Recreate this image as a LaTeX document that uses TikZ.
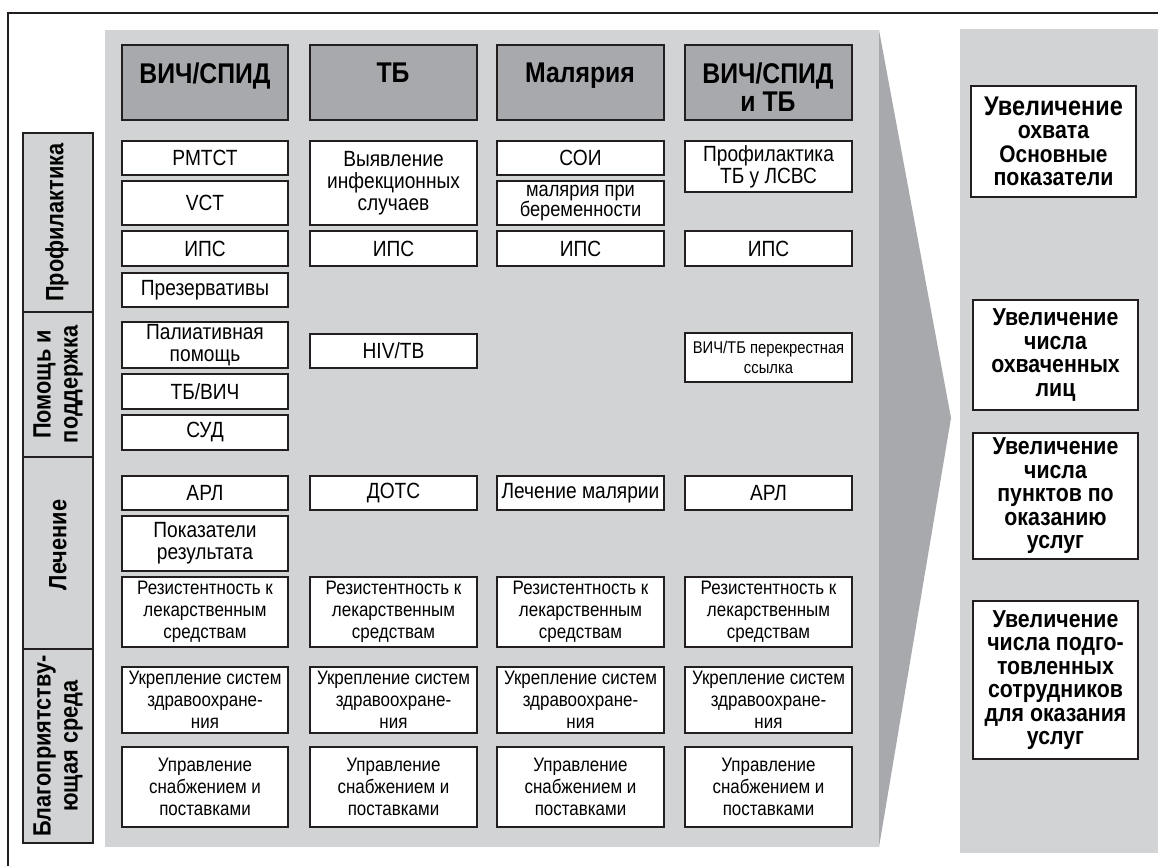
\documentclass[tikz,border=0pt]{standalone}
\usepackage{fontspec}
\setmainfont{Liberation Sans}[FakeStretch=0.87]
\definecolor{lg}{HTML}{D1D3D4}
\definecolor{mg}{HTML}{A7A9AC}
\definecolor{lc}{HTML}{231F20}
\newcommand\Cell[7]{\node[#2, minimum width={(#5)-(#3)}, minimum height={(#6)-(#4)}] (#1) at ({((#3)+(#5))/2},{((#4)+(#6))/2}) {#7};}
\begin{document}
\begin{tikzpicture}[x=1pt,y=-1pt,
  cell/.style={draw=lc, line width=2.8pt, fill=white, inner sep=0pt, align=center, font=\fontsize{22}{22}\selectfont},
  small/.style={cell, font=\fontsize{19.5}{22}\selectfont},
  tiny/.style={cell, font=\fontsize{17}{20}\selectfont},
  hdr/.style={draw=lc, line width=2.8pt, fill=mg, inner sep=0pt},
  hdrtxt/.style={inner sep=0pt, align=center, anchor=north, font=\bfseries\fontsize{28.5}{28}\selectfont},
  res/.style={cell, font=\bfseries\fontsize{24.5}{23.5}\selectfont},
  side/.style={draw=lc, line width=2.8pt, fill=lg, inner sep=0pt},
  sidetxt/.style={rotate=90, align=center, inner sep=0pt, font=\bfseries\fontsize{25}{27}\selectfont}]
\useasboundingbox (0,0) rectangle (1158,866);
% frame
\draw[lc, line width=2.5pt] (8,866) -- (8,13) -- (1158,13);
% panels
\fill[lg] (105,30) rectangle (879,847);
\fill[mg] (879,30) -- (951,418) -- (879,847) -- cycle;
\fill[lg] (960,29) rectangle (1158,853);
% side labels
\Cell{s1}{side}{23}{133}{93}{312}{}
\Cell{s2}{side}{23}{312}{93}{457}{}
\Cell{s3}{side}{23}{457}{93}{649}{}
\Cell{s4}{side}{23}{649}{93}{843}{}
\node[sidetxt] (s1t) at ([xshift=-1]s1.center) {Профилактика};
\node[sidetxt] (s2t) at (s2.center) {Помощь и\\поддержка};
\node[sidetxt] (s3t) at ([yshift=8]s3.center) {Лечение};
\node[sidetxt] (s4t) at (s4.center) {Благоприятству-\\ющая среда};
% headers
\Cell{h1}{hdr}{122}{45}{288}{120}{}
\Cell{h2}{hdr}{310}{45}{477}{120}{}
\Cell{h3}{hdr}{497}{45}{664}{120}{}
\Cell{h4}{hdr}{685}{45}{852}{120}{}
\node[hdrtxt] (h1t) at (205,63) {ВИЧ/СПИД};
\node[hdrtxt] (h2t) at (393,63) {ТБ};
\node[hdrtxt] (h3t) at (580,63) {Малярия};
\node[hdrtxt] (h4t) at (768,63) {ВИЧ/СПИД\\и ТБ};
% column 1
\Cell{a1}{cell}{122}{141}{288}{175}{РМТСТ}
\Cell{a2}{cell}{122}{181}{288}{225}{\raisebox{-13pt}{VCT}}
\Cell{a3}{cell}{122}{231}{288}{266}{ИПС}
\Cell{a4}{cell}{122}{273}{288}{307}{Презервативы}
\Cell{a5}{cell}{122}{322}{288}{368}{Палиативная\\помощь}
\Cell{a6}{cell}{122}{374}{288}{409}{ТБ/ВИЧ}
\Cell{a7}{cell}{122}{415}{288}{450}{СУД}
\Cell{a8}{cell}{122}{476}{288}{510}{АРЛ}
\Cell{a9}{cell}{122}{516}{288}{571}{Показатели\\результата}
\Cell{a10}{small}{122}{577}{288}{647}{Резистентность к\\лекарственным\\средствам}
\Cell{a11}{small}{122}{667}{288}{733}{Укрепление систем\\здравоохране-\\ния}
\Cell{a12}{small}{122}{747}{288}{827}{Управление\\снабжением и\\поставками}
% column 2
\Cell{b1}{cell}{310}{141}{477}{225}{Выявление\\инфекционных\\случаев}
\Cell{b2}{cell}{310}{231}{477}{266}{ИПС}
\Cell{b3}{cell}{310}{334}{477}{368}{HIV/TB}
\Cell{b4}{cell}{310}{476}{477}{510}{ДОТС}
\Cell{b5}{small}{310}{577}{477}{647}{Резистентность к\\лекарственным\\средствам}
\Cell{b6}{small}{310}{667}{477}{733}{Укрепление систем\\здравоохране-\\ния}
\Cell{b7}{small}{310}{747}{477}{827}{Управление\\снабжением и\\поставками}
% column 3
\Cell{c1}{cell}{497}{141}{664}{175}{СОИ}
\Cell{c2}{cell, font=\fontsize{21}{19.5}\selectfont}{497}{181}{664}{225}{малярия при\\беременности}
\Cell{c3}{cell}{497}{231}{664}{266}{ИПС}
\Cell{c4}{cell}{497}{476}{664}{510}{Лечение малярии}
\Cell{c5}{small}{497}{577}{664}{647}{Резистентность к\\лекарственным\\средствам}
\Cell{c6}{small}{497}{667}{664}{733}{Укрепление систем\\здравоохране-\\ния}
\Cell{c7}{small}{497}{747}{664}{827}{Управление\\снабжением и\\поставками}
% column 4
\Cell{d1}{cell}{685}{141}{852}{192}{Профилактика\\ТБ у ЛСВС}
\Cell{d2}{cell}{685}{231}{852}{266}{ИПС}
\Cell{d3}{tiny}{685}{333}{852}{382}{ВИЧ/ТБ перекрестная\\ссылка}
\Cell{d4}{cell}{685}{476}{852}{510}{АРЛ}
\Cell{d5}{small}{685}{577}{852}{647}{Резистентность к\\лекарственным\\средствам}
\Cell{d6}{small}{685}{667}{852}{733}{Укрепление систем\\здравоохране-\\ния}
\Cell{d7}{small}{685}{747}{852}{827}{Управление\\снабжением и\\поставками}
% results
\Cell{r1}{res}{971}{86}{1136}{197}{\fontsize{27}{25}\selectfont Увеличение\\охвата\\\fontsize{24}{23.5}\selectfont Основные\\показатели}
\Cell{r2}{res}{973}{300}{1138}{410}{Увеличение\\числа\\охваченных\\лиц}
\Cell{r3}{res}{973}{433}{1138}{559}{Увеличение\\числа\\пунктов по\\оказанию\\услуг}
\Cell{r4}{res}{973}{601}{1138}{759}{Увеличение\\числа подго-\\товленных\\сотрудников\\для оказания\\услуг}
\end{tikzpicture}
\end{document}
